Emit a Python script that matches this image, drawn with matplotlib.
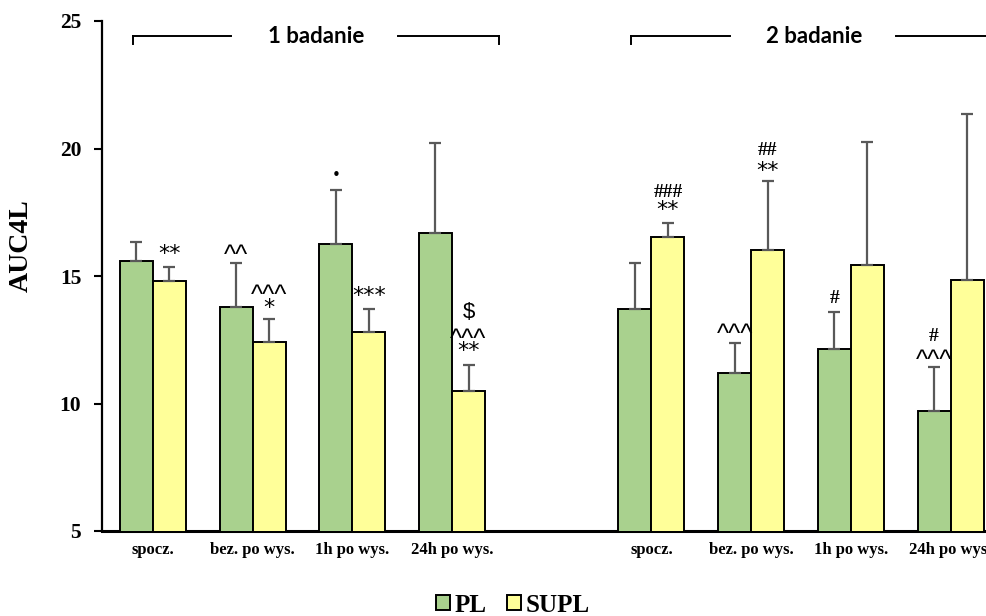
import matplotlib
matplotlib.use("Agg")
import numpy as np
import matplotlib.pyplot as plt
from matplotlib.patches import Patch

# data
categories = ['spocz.', 'bez. po wys.', '1h po wys.', '24h po wys.']
study_labels = ['1 badanie', '2 badanie']

pl_1 = [15.58, 13.80, 16.25, 16.70]
pl_1_err = [0.75, 1.72, 2.14, 3.53]
supl_1 = [14.82, 12.41, 12.80, 10.49]
supl_1_err = [0.53, 0.90, 0.91, 1.01]

pl_2 = [13.71, 11.18, 12.15, 9.69]
pl_2_err = [1.80, 1.19, 1.43, 1.74]
supl_2 = [16.54, 16.03, 15.44, 14.83]
supl_2_err = [0.53, 2.71, 4.80, 6.51]

# (position index, series, text lines top->bottom, y of each line)
annotations = [
    (0, 'supl', ['**'], [15.85]),
    (1, 'pl', ['^^'], [15.8]),
    (1, 'supl', ['^^^', '*'], [14.23, 13.75]),
    (2, 'pl', ['\u2022'], [18.96]),
    (2, 'supl', ['***'], [14.23]),
    (3, 'supl', ['$', '^^^', '**'], [13.55, 12.5, 12.05]),
    (5, 'supl', ['###', '**'], [18.29, 17.57]),
    (6, 'pl', ['^^^'], [12.7]),
    (6, 'supl', ['##', '**'], [19.94, 19.1]),
    (7, 'pl', ['#'], [14.11]),
    (8, 'pl', ['#', '^^^'], [12.61, 11.65]),
]

GREEN = '#A9D18E'
YELLOW = '#FFFF99'
ERRC = '#595959'
SERIF = 'Liberation Serif'

pos = np.array([0, 1, 2, 3, 5, 6, 7, 8])
pl = pl_1 + pl_2
pl_err = pl_1_err + pl_2_err
supl = supl_1 + supl_2
supl_err = supl_1_err + supl_2_err
w = 0.331

fig = plt.figure(figsize=(9.86, 6.16), dpi=100)
ax = fig.add_axes([102/986, 85/616, 908.4/986, 510/616])

ekw = dict(ecolor=ERRC, elinewidth=1.6, capsize=4, capthick=1.6)
ax.bar(pos - w/2, pl, w, color=GREEN, edgecolor='black', linewidth=1.4,
       yerr=[np.zeros(len(pl)), pl_err], error_kw=ekw, zorder=3)
ax.bar(pos + w/2, supl, w, color=YELLOW, edgecolor='black', linewidth=1.4,
       yerr=[np.zeros(len(supl)), supl_err], error_kw=ekw, zorder=3)

ax.set_xlim(-0.51, 8.6)
ax.set_ylim(5, 25)
ax.set_yticks([5, 10, 15, 20, 25])
ax.set_xticks(pos)
ax.set_xticklabels(categories * 2)
ax.tick_params(axis='x', length=0, pad=8)
ax.tick_params(axis='y', length=6, width=1.5, direction='out', pad=9)
for lab in ax.get_xticklabels():
    lab.set_fontfamily(SERIF)
    lab.set_fontweight('bold')
    lab.set_fontsize(12)
for lab in ax.get_yticklabels():
    lab.set_fontfamily(SERIF)
    lab.set_fontweight('bold')
    lab.set_fontsize(15.5)
ax.spines['top'].set_visible(False)
ax.spines['right'].set_visible(False)
ax.spines['left'].set_linewidth(1.6)
ax.spines['bottom'].set_linewidth(2.2)
ax.set_ylabel('AUC4L', fontfamily=SERIF, fontweight='bold', fontsize=20)
ax.yaxis.set_label_coords(-0.075, 0.559)

# significance marks
for idx, series, texts, ys in annotations:
    i = list(pos).index(idx)
    x = pos[i] - w/2 if series == 'pl' else pos[i] + w/2
    for t, y in zip(texts, ys):
        if '#' in t:
            ax.text(x, y, t, ha='center', va='center', fontsize=14,
                    fontfamily=SERIF, fontweight='bold')
        elif t == '\u2022':
            ax.text(x, y, t, ha='center', va='center', fontsize=11)
        elif '*' in t:
            ax.text(x, y, t, ha='center', va='center', fontsize=16,
                    fontfamily='DejaVu Sans')
        elif t == '$':
            ax.text(x, y, t, ha='center', va='center', fontsize=16,
                    fontfamily='Liberation Sans')
        else:
            ax.text(x, y, t, ha='center', va='center', fontsize=18.5,
                    fontfamily='Liberation Sans')

# study brackets
for k, label in enumerate(study_labels):
    start = pos[4*k] - 0.2
    end = pos[4*k + 3] + 0.47
    mid = (start + end) / 2
    ybr = 24.4
    ax.plot([start, start], [ybr - 0.3, ybr], color='black', lw=1.4, clip_on=False)
    ax.plot([end, end], [ybr - 0.3, ybr], color='black', lw=1.4, clip_on=False)
    ax.plot([start, mid - 0.85], [ybr, ybr], color='black', lw=1.4, clip_on=False)
    ax.plot([mid + 0.82, end], [ybr, ybr], color='black', lw=1.4, clip_on=False)
    ax.text(mid, ybr - 0.02, label, ha='center', va='center', fontsize=16,
            fontfamily='Lato', fontweight='bold')

handles = [Patch(facecolor=GREEN, edgecolor='black', linewidth=1.4),
           Patch(facecolor=YELLOW, edgecolor='black', linewidth=1.4)]
fig.legend(handles, ['PL', 'SUPL'], loc='center', bbox_to_anchor=(513/986, 1 - 605/616),
           ncol=2, frameon=False, handlelength=0.55, handleheight=0.55,
           handletextpad=0.2, columnspacing=0.8,
           prop=dict(family=SERIF, weight='bold', size=18))

fig.savefig('out.png', dpi=100)
